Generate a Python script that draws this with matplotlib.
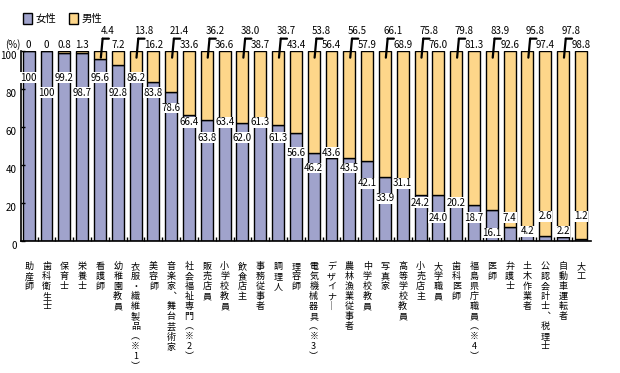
"""Female / male ratio by occupation, 100% stacked bars."""

import matplotlib
matplotlib.use("Agg")
import matplotlib.pyplot as plt
from matplotlib.patches import Patch

plt.rcParams["font.family"] = ["Noto Sans CJK JP", "DejaVu Sans"]

OCCUPATIONS = [
    "助産師", "歯科衛生士", "保育士", "栄養士", "看護師", "幼稚園教員",
    "衣服・繊維製品（※1）", "美容師", "音楽家、舞台芸術家", "社会福祉専門（※2）",
    "販売店員", "小学校教員", "飲食店主", "事務従事者", "調理人", "理容師",
    "電気機械器具（※3）", "デザイナー", "農林漁業従事者", "中学校教員", "写真家",
    "高等学校教員", "小売店主", "大学職員", "歯科医師", "福島県庁職員（※4）",
    "医師", "弁護士", "土木作業者", "公認会計士、税理士", "自動車運転者", "大工",
]
FEMALE = [
    100, 100, 99.2, 98.7, 95.6, 92.8, 86.2, 83.8, 78.6, 66.4, 63.8, 63.4,
    62.0, 61.3, 61.3, 56.6, 46.2, 43.6, 43.5, 42.1, 33.9, 31.1, 24.2, 24.0,
    20.2, 18.7, 16.1, 7.4, 4.2, 2.6, 2.2, 1.2,
]
MALE = [
    0, 0, 0.8, 1.3, 4.4, 7.2, 13.8, 16.2, 21.4, 33.6, 36.2, 36.6,
    38.0, 38.7, 38.7, 43.4, 53.8, 56.4, 56.5, 57.9, 66.1, 68.9, 75.8, 76.0,
    79.8, 81.3, 83.9, 92.6, 95.8, 97.4, 97.8, 98.8,
]
SERIES_NAMES = ["女性", "男性"]
Y_TICKS = [0, 20, 40, 60, 80, 100]

FEMALE_COLOR = "#a0a3cc"
MALE_COLOR = "#fdd68a"
FONT_SIZE = 7

# glyphs that need their vertical-writing form when stacked top to bottom
VERTICAL_FORMS = {"（": "︵", "）": "︶", "、": "︑", "ー": "｜"}


def vertical_text(label):
    return "\n".join(VERTICAL_FORMS.get(ch, ch) for ch in label)


def female_label_positions(values, gap=7.0, step=8.0):
    """Put each label near the top of its bar, stepping away from a clashing neighbour."""
    ys = []
    for v in values:
        y = max(min(v, 90) - 4, 5)
        if ys and abs(y - ys[-1]) < gap:
            options = [c for c in (ys[-1] + step, ys[-1] - step)
                       if 4 <= c <= min(v + 12, 90)]
            if not options:
                options = [ys[-1] + step]
            y = min(options, key=lambda c: abs(c - y))
        ys.append(y)
    return ys


fig = plt.figure(figsize=(6.2, 3.73), dpi=100)
ax = fig.add_axes([20.7 / 620, 1 - 241 / 373, 570 / 620, 190 / 373])

x = list(range(len(OCCUPATIONS)))
ax.bar(x, FEMALE, width=0.67, color=FEMALE_COLOR, edgecolor="black", linewidth=1)
ax.bar(x, MALE, width=0.67, bottom=FEMALE, color=MALE_COLOR,
       edgecolor="black", linewidth=1)

ax.set_xlim(-0.45, len(OCCUPATIONS) - 0.45)
ax.set_ylim(0, 100)
for side in ["top", "right"]:
    ax.spines[side].set_visible(False)
ax.spines["left"].set_linewidth(1.2)
ax.spines["bottom"].set_linewidth(1.2)

ax.set_yticks(Y_TICKS)
ax.set_yticklabels([str(t) for t in Y_TICKS], fontsize=FONT_SIZE)
ax.tick_params(axis="y", direction="in", length=3, width=1, pad=3)
for lbl in ax.get_yticklabels():
    lbl.set_verticalalignment("top")
ax.set_xticks([i + 0.5 for i in x[:-1]])
ax.set_xticklabels([])
ax.tick_params(axis="x", direction="in", length=3, width=1)

fig.text(13 / 620, 1 - 45 / 373, "(%)", ha="center", va="center", fontsize=FONT_SIZE)

box = dict(facecolor="white", edgecolor="none", pad=0.3)
for i, y in enumerate(female_label_positions(FEMALE)):
    ax.text(i, y, f"{FEMALE[i]:g}" if FEMALE[i] == 100 else f"{FEMALE[i]:.1f}",
            ha="center", va="center", fontsize=FONT_SIZE, bbox=box,
            clip_on=False, zorder=5)

leader = dict(arrowstyle="-", color="black", lw=1.6, shrinkA=0, shrinkB=0)
for i, m in enumerate(MALE):
    text = "0" if m == 0 else f"{m:.1f}"
    # from the 5th bar on every other value sits one row higher with a leader line
    if i >= 4 and i % 2 == 0:
        ax.annotate("", xy=(i + 0.05, 96.5), xytext=(i + 0.15, 106.5),
                    arrowprops=leader, annotation_clip=False, zorder=7)
        ax.annotate("", xy=(i + 0.15, 106.5), xytext=(i + 0.5, 106.5),
                    arrowprops=leader, annotation_clip=False, zorder=7)
        ax.text(i + 0.45, 110.5, text, ha="center", va="center",
                fontsize=FONT_SIZE, clip_on=False, zorder=6)
    else:
        ax.text(i, 103, text, ha="center", va="center",
                fontsize=FONT_SIZE, clip_on=False, zorder=6)

for i, name in enumerate(OCCUPATIONS):
    ax.annotate(vertical_text(name), xy=(i, 0), xytext=(0, -21),
                textcoords="offset pixels", ha="center", va="top",
                fontsize=6.5, linespacing=1.15, annotation_clip=False)

handles = [Patch(facecolor=FEMALE_COLOR, edgecolor="black", linewidth=1),
           Patch(facecolor=MALE_COLOR, edgecolor="black", linewidth=1)]
fig.legend(handles, SERIES_NAMES, loc="upper left", bbox_to_anchor=(0.022, 0.99),
           ncol=2, frameon=False, fontsize=7.5, handlelength=0.9,
           handleheight=1.2, handletextpad=0.3, columnspacing=1.2)

fig.savefig("out.png", dpi=100)
